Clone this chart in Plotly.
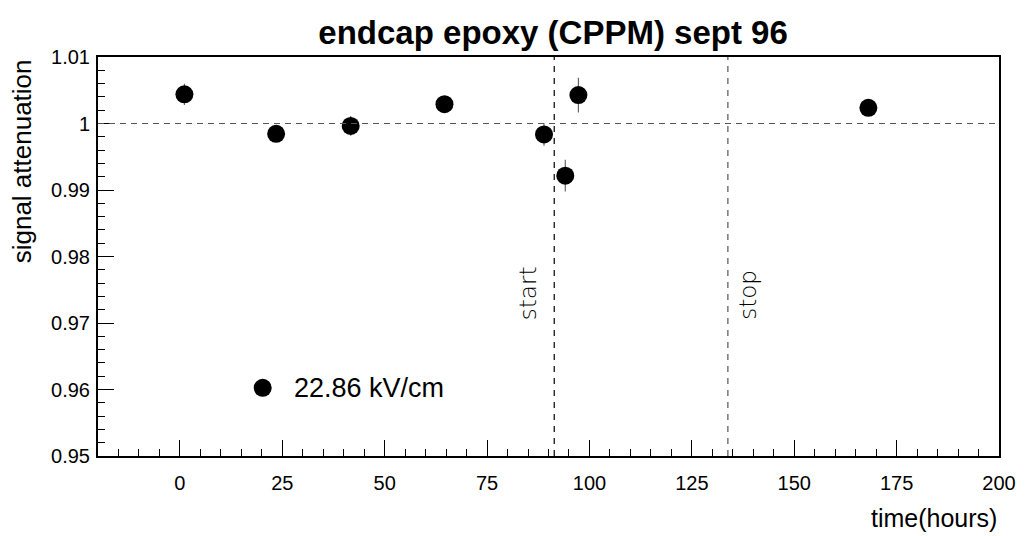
import plotly.graph_objects as go

# data
time_hours = [1.1, 23.5, 41.7, 64.6, 88.9, 94.1, 97.3, 168.1]
attenuation = [1.00438, 0.99844, 0.99964, 1.00291, 0.99835, 0.99216, 1.00427, 1.00236]
att_err = [0.0016, 0.0012, 0.0015, 0.0012, 0.0017, 0.0024, 0.0026, 0.0010]
series_name = "22.86 kV/cm"
start_time = 91.4
stop_time = 133.8
reference_level = 1.0
x_range = [-20, 200]
y_range = [0.95, 1.01]

FONT = "Liberation Sans, Arial, sans-serif"

fig = go.Figure()
fig.add_trace(go.Scatter(
    x=time_hours, y=attenuation, mode="markers", name=series_name,
    marker=dict(color="black", size=18, symbol="circle"),
    error_y=dict(type="data", array=att_err, visible=True, color="#666666",
                 thickness=1.2, width=0),
    showlegend=False,
))

# reference lines
fig.add_shape(type="line", xref="x", yref="y", x0=x_range[0], x1=x_range[1],
              y0=reference_level, y1=reference_level,
              line=dict(color="#555555", width=1.2, dash="6px,5px"))
fig.add_shape(type="line", xref="x", yref="paper", x0=start_time, x1=start_time,
              y0=0, y1=1, line=dict(color="black", width=1.2, dash="6px,6px"))
fig.add_shape(type="line", xref="x", yref="paper", x0=stop_time, x1=stop_time,
              y0=0, y1=1, line=dict(color="#555555", width=1.2, dash="6px,6px"))

label_font = dict(family="DejaVu Sans ExtraLight, DejaVu Sans, sans-serif",
                  size=23, color="black", weight=200)
fig.add_annotation(x=start_time, xref="x", y=0.336, yref="paper", text="start",
                   textangle=-90, showarrow=False, xanchor="right",
                   yanchor="bottom", xshift=-11, font=label_font)
fig.add_annotation(x=stop_time, xref="x", y=0.336, yref="paper", text="stop",
                   textangle=-90, showarrow=False, xanchor="left",
                   yanchor="bottom", xshift=5, font=label_font)

# manual legend
fig.add_shape(type="circle", xref="paper", yref="paper",
              xsizemode="pixel", ysizemode="pixel",
              xanchor=(264 - 98) / 908, yanchor=(456 - 388) / 398,
              x0=-9, x1=9, y0=-9, y1=9,
              fillcolor="black", line=dict(color="black", width=0))
fig.add_annotation(x=(294 - 98) / 908, xref="paper", y=(456 - 388) / 398,
                   yref="paper", text=series_name, showarrow=False,
                   xanchor="left", yanchor="middle",
                   font=dict(family=FONT, size=27, color="black"))

# axis titles
fig.add_annotation(x=1.0, xref="paper", y=-0.155, yref="paper",
                   text="time(hours)", showarrow=False, xanchor="right",
                   yanchor="middle", font=dict(family=FONT, size=25, color="black"))
fig.add_annotation(x=-0.084, xref="paper", y=1.0, yref="paper",
                   text="signal attenuation", showarrow=False, textangle=-90,
                   xanchor="center", yanchor="top",
                   font=dict(family=FONT, size=26, color="black"))

axis_common = dict(showline=True, linecolor="black", linewidth=2, mirror=True,
                   ticks="inside", tickcolor="black", tickwidth=1, ticklen=16,
                   showgrid=False, zeroline=False,
                   tickfont=dict(family=FONT, size=20, color="black"))

fig.update_xaxes(range=x_range, tick0=0, dtick=25, ticklabelstandoff=8,
                 minor=dict(dtick=5, tick0=0, ticks="inside", ticklen=7,
                            tickcolor="black", tickwidth=1, showgrid=False),
                 **axis_common)
fig.update_yaxes(range=y_range, tick0=0.95, dtick=0.01, tickformat="~g",
                 ticklabelstandoff=2,
                 minor=dict(dtick=0.002, tick0=0.95, ticks="inside", ticklen=7,
                            tickcolor="black", tickwidth=1, showgrid=False),
                 **axis_common)

fig.update_layout(
    width=1028, height=536,
    margin=dict(l=98, r=22, t=57, b=80),
    paper_bgcolor="white", plot_bgcolor="white",
    title=dict(text="<b>endcap epoxy (CPPM) sept 96</b>", x=0.538, xanchor="center",
               y=0.94, yanchor="middle",
               font=dict(family=FONT, size=33, color="black")),
    showlegend=False,
)

fig.write_html("out.html")
